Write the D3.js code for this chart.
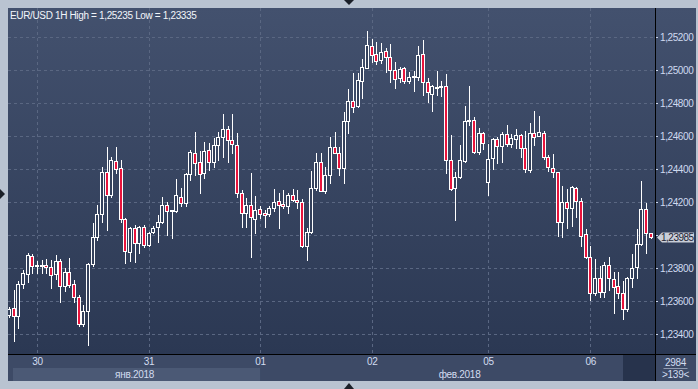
<!DOCTYPE html>
<html>
<head>
<meta charset="utf-8">
<script src="https://cdn.jsdelivr.net/npm/d3@7"></script>
<style>
  body { margin: 0; background: #b9c3d1; }
  svg { display: block; font-family: "Liberation Sans", Arial, sans-serif; }
</style>
</head>
<body>
<svg id="chart" width="698" height="389"></svg>
<script>
// EUR/USD hourly candles (139 visible bars)
const opens = [
  1.23515,1.23558,1.23509,1.23703,1.23764,1.23873,1.23812,1.23816,1.23818,1.23806,
  1.23764,1.23842,1.23691,1.23776,1.23703,1.23624,1.23461,1.23539,1.23824,1.23988,
  1.24127,1.24384,1.24242,1.24450,1.24404,1.24095,1.23899,1.24041,1.23950,1.24050,
  1.23939,1.24016,1.24047,1.24079,1.24180,1.24147,1.24147,1.24232,1.24192,1.24370,
  1.24495,1.24444,1.24374,1.24515,1.24441,1.24545,1.24592,1.24641,1.24576,1.24545,
  1.24253,1.24135,1.24182,1.24097,1.24156,1.24131,1.24125,1.24162,1.24204,1.24186,
  1.24176,1.24241,1.24212,1.24203,1.23933,1.24016,1.24283,1.24441,1.24268,1.24364,
  1.24532,1.24495,1.24408,1.24691,1.24812,1.24782,1.24933,1.25014,1.25145,1.25097,
  1.25059,1.25113,1.25077,1.24998,1.24950,1.25010,1.24933,1.24959,1.24959,1.25095,
  1.24925,1.24853,1.24897,1.24899,1.24903,1.24453,1.24283,1.24353,1.24448,1.24695,
  1.24697,1.24505,1.24616,1.24323,1.24465,1.24580,1.24539,1.24610,1.24552,1.24584,
  1.24604,1.24525,1.24394,1.24616,1.24602,1.24616,1.24471,1.24404,1.24380,1.24077,
  1.24197,1.24162,1.24283,1.24208,1.24006,1.23865,1.23650,1.23738,1.23656,1.23818,
  1.23732,1.23691,1.23650,1.23550,1.23741,1.23804,1.23944,1.24156,1.24010
];
const highs = [
  1.23564,1.23667,1.23721,1.23788,1.23891,1.23885,1.23842,1.23849,1.23855,1.23849,
  1.23879,1.23855,1.23800,1.23861,1.23727,1.23636,1.23576,1.23830,1.24073,1.24182,
  1.24414,1.24535,1.24475,1.24535,1.24455,1.24103,1.24050,1.24061,1.24055,1.24061,
  1.24020,1.24055,1.24121,1.24232,1.24202,1.24153,1.24338,1.24283,1.24378,1.24515,
  1.24622,1.24509,1.24565,1.24558,1.24588,1.24626,1.24733,1.24661,1.24733,1.24616,
  1.24273,1.24222,1.24378,1.24236,1.24176,1.24152,1.24176,1.24277,1.24256,1.24273,
  1.24253,1.24277,1.24273,1.24218,1.24041,1.24388,1.24495,1.24495,1.24414,1.24596,
  1.24626,1.24535,1.24747,1.24885,1.24980,1.24980,1.25065,1.25235,1.25186,1.25168,
  1.25162,1.25132,1.25158,1.25047,1.25020,1.25020,1.24990,1.24994,1.25145,1.25182,
  1.24950,1.24909,1.24994,1.24935,1.24976,1.24606,1.24382,1.24545,1.24782,1.24903,
  1.24713,1.24647,1.24626,1.24552,1.24586,1.24596,1.24626,1.24667,1.24612,1.24641,
  1.24612,1.24632,1.24677,1.24752,1.24721,1.24632,1.24485,1.24491,1.24382,1.24297,
  1.24277,1.24295,1.24293,1.24222,1.24036,1.23933,1.23853,1.23812,1.23838,1.23869,
  1.23778,1.23778,1.23723,1.23747,1.23885,1.24036,1.24327,1.24192,1.24012
];
const lows = [
  1.23503,1.23355,1.23436,1.23679,1.23715,1.23770,1.23770,1.23770,1.23770,1.23679,
  1.23733,1.23594,1.23661,1.23685,1.23594,1.23449,1.23449,1.23335,1.23812,1.23970,
  1.24081,1.24030,1.24230,1.24376,1.24079,1.23832,1.23844,1.23838,1.23891,1.23929,
  1.23933,1.24010,1.23959,1.24071,1.24000,1.23984,1.24141,1.24176,1.24176,1.24333,
  1.24364,1.24253,1.24344,1.24394,1.24414,1.24455,1.24475,1.24444,1.24495,1.24228,
  1.24050,1.24050,1.23865,1.24014,1.24101,1.24050,1.24115,1.24147,1.24044,1.24162,
  1.24131,1.24206,1.24162,1.23927,1.23847,1.24010,1.24273,1.24264,1.24253,1.24313,
  1.24495,1.24364,1.24313,1.24616,1.24747,1.24774,1.24828,1.25010,1.25047,1.25035,
  1.25044,1.24986,1.24925,1.24893,1.24929,1.24919,1.24919,1.24875,1.24939,1.24848,
  1.24808,1.24753,1.24848,1.24842,1.24378,1.24273,1.24089,1.24348,1.24444,1.24667,
  1.24495,1.24489,1.24519,1.24242,1.24398,1.24438,1.24444,1.24539,1.24531,1.24525,
  1.24471,1.24384,1.24384,1.24545,1.24600,1.24459,1.24390,1.24353,1.23994,1.23986,
  1.24041,1.24055,1.24111,1.23935,1.23859,1.23606,1.23636,1.23626,1.23622,1.23667,
  1.23529,1.23616,1.23489,1.23541,1.23687,1.23738,1.23939,1.23889,1.23980
];
const closes = [
  1.23552,1.23509,1.23703,1.23770,1.23879,1.23812,1.23818,1.23818,1.23806,1.23758,
  1.23842,1.23691,1.23776,1.23697,1.23624,1.23461,1.23539,1.23824,1.23988,1.24127,
  1.24384,1.24242,1.24455,1.24398,1.24095,1.23905,1.24041,1.23950,1.24047,1.23939,
  1.24014,1.24041,1.24081,1.24180,1.24147,1.24150,1.24242,1.24192,1.24370,1.24500,
  1.24439,1.24370,1.24509,1.24441,1.24545,1.24592,1.24642,1.24576,1.24552,1.24256,
  1.24135,1.24182,1.24107,1.24152,1.24125,1.24119,1.24162,1.24200,1.24180,1.24176,
  1.24241,1.24212,1.24200,1.23932,1.24016,1.24283,1.24441,1.24268,1.24364,1.24532,
  1.24499,1.24408,1.24691,1.24812,1.24778,1.24939,1.25020,1.25152,1.25091,1.25055,
  1.25107,1.25077,1.24998,1.24944,1.25004,1.24933,1.24959,1.24962,1.25091,1.24925,
  1.24865,1.24903,1.24899,1.24901,1.24455,1.24277,1.24350,1.24455,1.24691,1.24697,
  1.24505,1.24616,1.24556,1.24459,1.24580,1.24539,1.24612,1.24552,1.24586,1.24604,
  1.24525,1.24398,1.24616,1.24596,1.24622,1.24475,1.24410,1.24380,1.24077,1.24197,
  1.24162,1.24289,1.24208,1.23996,1.23865,1.23650,1.23738,1.23656,1.23818,1.23738,
  1.23687,1.23650,1.23550,1.23741,1.23798,1.23944,1.24156,1.24010,1.23985
];

const titleText = "EUR/USD 1H High = 1,25235 Low = 1,23335";
const priceTicks = [1.234, 1.236, 1.238, 1.240, 1.242, 1.244, 1.246, 1.248, 1.250, 1.252];
const dayIndex = [6, 30, 54, 78, 103, 125];
const dayLabels = ["30", "31", "01", "02", "05", "06"];
const monthLabels = ["янв.2018", "фев.2018"];
const monthStart = [0, 54];
const totalBars = 2984;
const visibleBars = 139;

const frame = {left: 8, top: 8, right: 696, bottom: 381};
const plotRight = 655, plotBottom = 354;

const bars = opens.map((o, i) => ({i, o, h: highs[i], l: lows[i], c: closes[i]}));
const lastPrice = closes[closes.length - 1];

const x = d3.scaleLinear().domain([0, visibleBars - 1]).range([9, 650.7]);
const y = d3.scaleLinear().domain([1.234, 1.252]).range([334, 37]);
const fmt = v => d3.format(".5f")(v).replace(".", ",");

const svg = d3.select("#chart");
const defs = svg.append("defs");
const grad = defs.append("linearGradient").attr("id", "bg")
    .attr("x1", 0).attr("y1", 0).attr("x2", 0).attr("y2", 1);
grad.append("stop").attr("offset", "0%").attr("stop-color", "#43516e");
grad.append("stop").attr("offset", "100%").attr("stop-color", "#2b3853");
defs.append("clipPath").attr("id", "plotclip").append("rect")
    .attr("x", frame.left).attr("y", frame.top)
    .attr("width", plotRight - frame.left).attr("height", plotBottom - frame.top);

// panels
svg.append("rect")
    .attr("x", frame.left).attr("y", frame.top)
    .attr("width", frame.right - frame.left).attr("height", plotBottom - frame.top)
    .attr("fill", "url(#bg)");
svg.append("rect")
    .attr("x", frame.left).attr("y", plotBottom)
    .attr("width", frame.right - frame.left).attr("height", frame.bottom - plotBottom)
    .attr("fill", "#3d4a66");
svg.append("rect")
    .attr("x", x(monthStart[0]) + 4).attr("y", 368)
    .attr("width", x(monthStart[1]) - x(monthStart[0]) - 4).attr("height", frame.bottom - 368)
    .attr("fill", "#4b5975");
svg.append("rect")
    .attr("x", 623).attr("y", plotBottom + 1)
    .attr("width", plotRight - 623).attr("height", frame.bottom - plotBottom - 1)
    .attr("fill", "#27334c");

// gridlines
const grid = svg.append("g").attr("stroke", "#5a6782").attr("stroke-dasharray", "3,3")
    .attr("shape-rendering", "crispEdges");
grid.selectAll(".hg").data(priceTicks).enter().append("line")
    .attr("x1", frame.left).attr("x2", plotRight)
    .attr("y1", d => Math.round(y(d)) + 0.5).attr("y2", d => Math.round(y(d)) + 0.5);
grid.selectAll(".vg").data(dayIndex).enter().append("line")
    .attr("y1", frame.top).attr("y2", plotBottom)
    .attr("x1", d => Math.round(x(d)) + 0.5).attr("x2", d => Math.round(x(d)) + 0.5);

// candles
const candles = svg.append("g").attr("clip-path", "url(#plotclip)")
    .selectAll("g").data(bars).enter().append("g");
candles.append("line")
    .attr("x1", d => Math.round(x(d.i)) + 0.5).attr("x2", d => Math.round(x(d.i)) + 0.5)
    .attr("y1", d => Math.round(y(d.h))).attr("y2", d => Math.round(y(d.l)) + 1)
    .attr("stroke", "#ffffff").attr("shape-rendering", "crispEdges");
candles.append("rect")
    .attr("x", d => Math.round(x(d.i)) - 1.5)
    .attr("y", d => Math.round(y(Math.max(d.o, d.c))) + 0.5)
    .attr("width", 3)
    .attr("height", d => Math.max(1, Math.round(y(Math.min(d.o, d.c))) - Math.round(y(Math.max(d.o, d.c)))))
    .attr("fill", d => d.c < d.o ? "#e8143c" : "#34415c")
    .attr("stroke", "#ffffff").attr("stroke-width", 1);

// frame lines
svg.append("line").attr("x1", plotRight + 0.5).attr("x2", plotRight + 0.5)
    .attr("y1", frame.top).attr("y2", frame.bottom).attr("stroke", "#000");
svg.append("line").attr("x1", frame.left).attr("x2", frame.right)
    .attr("y1", plotBottom + 0.5).attr("y2", plotBottom + 0.5).attr("stroke", "#000");

// price axis
const yAxis = svg.append("g")
    .attr("transform", `translate(${plotRight + 1},0)`)
    .call(d3.axisRight(y).tickValues(priceTicks).tickFormat(fmt).tickSize(2).tickPadding(2));
yAxis.select(".domain").remove();
yAxis.selectAll("line").attr("stroke", "#c8d3ea");
yAxis.selectAll("text")
    .attr("fill", "#cfdaf0").attr("font-size", 10).attr("letter-spacing", -0.4)
    .attr("font-family", "Liberation Sans, Arial, sans-serif")
    .style("display", d => Math.abs(y(d) - y(lastPrice)) < 10 ? "none" : null);

// current price marker
const py = y(lastPrice);
svg.append("path")
    .attr("d", `M${plotRight + 2},${py} L${plotRight + 7},${py - 5} L${frame.right - 2},${py - 5} L${frame.right - 2},${py + 5} L${plotRight + 7},${py + 5} Z`)
    .attr("fill", "#c9ced8");
svg.append("text")
    .attr("x", plotRight + 6).attr("y", py + 3.5)
    .attr("font-size", 10).attr("letter-spacing", -0.5).attr("fill", "#1c2233")
    .text(fmt(lastPrice));

// time axis
const xAxis = svg.append("g")
    .attr("transform", `translate(0,${plotBottom})`)
    .call(d3.axisBottom(x).tickValues(dayIndex).tickFormat((d, i) => dayLabels[i]).tickSize(0).tickPadding(4));
xAxis.select(".domain").remove();
xAxis.selectAll("text")
    .attr("fill", "#d2dcf0").attr("font-size", 10).attr("letter-spacing", -0.3)
    .attr("font-family", "Liberation Sans, Arial, sans-serif");

const monthEnd = [monthStart[1], visibleBars - 1];
svg.selectAll(".month").data(monthLabels).enter().append("text")
    .attr("x", (d, i) => (x(monthStart[i]) + 4 + (i === 0 ? x(monthEnd[i]) : plotRight)) / 2 - (i === 0 ? 2 : 0))
    .attr("y", 377.5)
    .attr("text-anchor", "middle")
    .attr("font-size", 10).attr("letter-spacing", -0.3).attr("fill", "#d2dcf0")
    .text(d => d);

// bar counters
const cx = (plotRight + frame.right) / 2;
svg.append("text").attr("x", cx).attr("y", 365.5).attr("text-anchor", "middle")
    .attr("font-size", 10).attr("letter-spacing", -0.3).attr("fill", "#d2dcf0").text(totalBars);
svg.append("line").attr("x1", cx - 12).attr("x2", cx + 12).attr("y1", 368.5).attr("y2", 368.5)
    .attr("stroke", "#8f9ab0");
svg.append("text").attr("x", cx).attr("y", 377.5).attr("text-anchor", "middle")
    .attr("font-size", 10).attr("letter-spacing", -0.3).attr("fill", "#d2dcf0").text(`>${visibleBars}<`);

// title
svg.append("text").attr("x", 10).attr("y", 18.5)
    .attr("font-size", 10).attr("letter-spacing", -0.35).attr("fill", "#f2f5fa")
    .text(titleText);

// scroll markers
svg.append("path").attr("d", "M344,0 L354,0 L349,5 Z").attr("fill", "#1a1f28");
svg.append("path").attr("d", "M344,389 L354,389 L349,383 Z").attr("fill", "#1a1f28");
svg.append("path").attr("d", "M0,189 L0,199 L5,194 Z").attr("fill", "#1a1f28");
</script>
</body>
</html>
